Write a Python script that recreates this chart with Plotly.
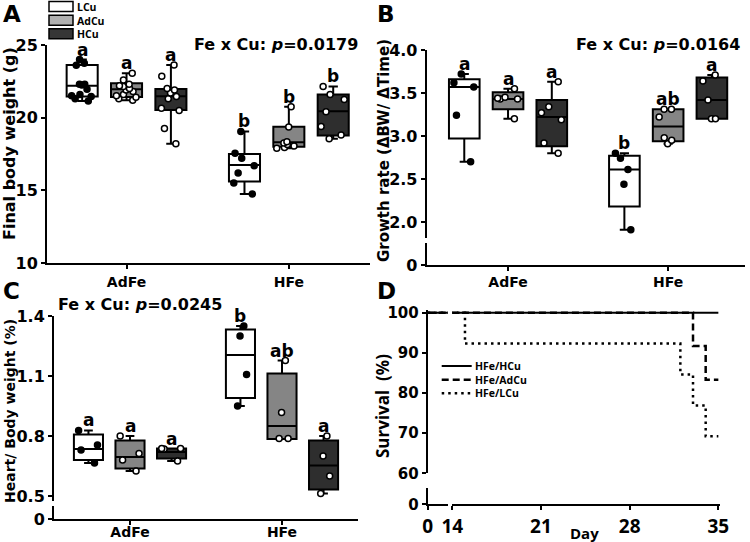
import plotly.graph_objects as go

W, H = 750, 542

fe_groups = ["AdFe", "HFe"]
cu_levels = ["LCu", "AdCu", "HCu"]

# ---------------- Panel A: final body weight (g) ----------------
# each list = [AdFe points, HFe points]
bw_LCu = [[24.0, 23.75, 23.6, 22.3, 22.3, 22.25, 21.95, 21.6, 21.5, 21.45, 21.3, 21.15],
          [19.05, 17.55, 17.2, 16.7, 16.2, 15.5, 14.75]]
bw_AdCu = [[23.05, 22.6, 22.3, 22.2, 22.15, 22.0, 21.9, 21.8, 21.6, 21.5, 21.4, 21.3, 21.2],
           [20.75, 19.35, 18.35, 18.25, 18.15, 18.05, 17.95, 17.9]]
bw_HCu = [[23.62, 22.85, 22.0, 21.9, 21.7, 21.45, 21.3, 20.65, 20.5, 19.25, 18.2],
          [22.15, 21.6, 21.25, 20.4, 19.4, 18.8, 18.55]]
# box statistics, rows LCu / AdCu / HCu, columns AdFe / HFe
bw_q1 = [[21.45, 15.6], [21.42, 18.0], [20.53, 18.78]]
bw_med = [[22.2, 16.75], [21.95, 18.3], [21.47, 20.45]]
bw_q3 = [[23.62, 17.5], [22.36, 19.38], [21.97, 21.6]]
bw_letters = [["a", "b"], ["a", "b"], ["a", "b"]]
bw_p = "0.0179"

# ---------------- Panel B: growth rate ----------------
gr_LCu = [[3.72, 3.62, 3.57, 3.24, 2.70], [2.80, 2.74, 2.61, 2.44, 1.91]]
gr_AdCu = [[3.55, 3.45, 3.44, 3.43, 3.43, 3.20], [3.31, 3.31, 3.22, 2.98, 2.95, 2.91]]
gr_HCu = [[3.63, 3.34, 3.27, 3.19, 2.92, 2.80], [3.71, 3.64, 3.42, 3.20, 3.20]]
gr_q1 = [[2.97, 2.18], [3.31, 2.94], [2.88, 3.20]]
gr_med = [[3.57, 2.61], [3.43, 3.11], [3.22, 3.42]]
gr_q3 = [[3.66, 2.77], [3.51, 3.31], [3.42, 3.68]]
gr_letters = [["a", "b"], ["a", "ab"], ["a", "a"]]
gr_p = "0.0164"

# ---------------- Panel C: heart / body weight (%) ----------------
hb_LCu = [[0.828, 0.755, 0.73, 0.665], [1.35, 1.30, 1.108, 0.95]]
hb_AdCu = [[0.80, 0.713, 0.68, 0.625], [1.177, 0.918, 0.788, 0.788]]
hb_HCu = [[0.737, 0.737, 0.735, 0.675], [0.80, 0.70, 0.60, 0.513]]
hb_q1 = [[0.68, 0.99], [0.638, 0.785], [0.688, 0.533]]
hb_med = [[0.735, 1.205], [0.695, 0.85], [0.72, 0.652]]
hb_q3 = [[0.808, 1.333], [0.777, 1.113], [0.738, 0.777]]
hb_letters = [["a", "b"], ["a", "ab"], ["a", "a"]]
hb_p = "0.0245"

# ---------------- Panel D: survival (%) ----------------
surv_names = ["HFe/HCu", "HFe/AdCu", "HFe/LCu"]
surv_day_HCu = [0, 35]
surv_HCu = [100, 100]
surv_day_AdCu = [0, 33, 34, 35]
surv_AdCu = [100, 91.7, 83.3, 83.3]
surv_day_LCu = [0, 15, 32, 33, 34, 35]
surv_LCu = [100, 92.3, 84.6, 76.9, 69.2, 69.2]

# ---------------- styles ----------------
FONT = "DejaVu Sans"
FONT2 = "Open Sans"
box_fill = {"LCu": "#ffffff", "AdCu": "#858585", "HCu": "#2e2e2e"}
legend_fill = {"LCu": "#ffffff", "AdCu": "#b0b0b0", "HCu": "#363636"}
BOXGAP, BOXGROUPGAP = 0.18, 0.3


def xd(a, b):
    return [a / W, b / W]


def yd(top, bottom):
    return [1 - bottom / H, 1 - top / H]


def px(x):
    return x / W


def py(y):
    return 1 - y / H


def axis(**kw):
    d = dict(showline=True, linecolor="black", linewidth=2, ticks="outside", ticklen=4,
             tickwidth=2, tickcolor="black", showgrid=False, zeroline=False, automargin=False,
             tickfont=dict(family=FONT, size=16, color="black", weight="bold"))
    d.update(kw)
    return d


fig = go.Figure()
annotations = []
shapes = []


def add_panel(pts_by_cu, q1, med, q3, letters, xa, ya, group):
    for k, cu in enumerate(cu_levels):
        pts = pts_by_cu[k]
        filled = cu == "LCu"
        fig.add_trace(go.Box(
            x=fe_groups, y=pts, q1=q1[k], median=med[k], q3=q3[k],
            lowerfence=[min(p) for p in pts], upperfence=[max(p) for p in pts],
            boxpoints="all", jitter=0.8, pointpos=0,
            fillcolor=box_fill[cu], line=dict(color="black", width=2),
            whiskerwidth=0.3,
            marker=dict(color="black" if filled else "white", size=6,
                        line=dict(color="black", width=1.5)),
            offsetgroup=cu, alignmentgroup=group, name=cu,
            xaxis=xa, yaxis=ya, showlegend=False, hoverinfo="skip"))
        off = (k - 1) * (1 - BOXGAP) / 3
        for i, g in enumerate(fe_groups):
            annotations.append(dict(
                x=i + off, y=max(pts[i]), xref=xa, yref=ya, text=letters[k][i],
                showarrow=False, yanchor="bottom", xanchor="center", yshift=-2,
                font=dict(family=FONT, size=17, color="black", weight="bold")))


add_panel([bw_LCu, bw_AdCu, bw_HCu], bw_q1, bw_med, bw_q3, bw_letters, "x", "y", "A")
add_panel([gr_LCu, gr_AdCu, gr_HCu], gr_q1, gr_med, gr_q3, gr_letters, "x2", "y2", "B")
add_panel([hb_LCu, hb_AdCu, hb_HCu], hb_q1, hb_med, hb_q3, hb_letters, "x3", "y4", "C")

# survival curves
surv_data = [(surv_day_HCu, surv_HCu), (surv_day_AdCu, surv_AdCu), (surv_day_LCu, surv_LCu)]
surv_dash = ["solid", "7px,4px", "2.5px,4px"]
surv_width = [2, 2.5, 2.5]
for (days, vals), nm, dash, lw in zip(surv_data, surv_names, surv_dash, surv_width):
    for xa in ("x4", "x5"):
        fig.add_trace(go.Scatter(
            x=days, y=vals, mode="lines", line=dict(color="black", width=lw, dash=dash, shape="hv"),
            name=nm, xaxis=xa, yaxis="y6", showlegend=False, hoverinfo="skip"))

# empty traces so that the short axis-break segments get their own subplots
for xa, ya in [("x2", "y3"), ("x3", "y5"), ("x5", "y7"), ("x4", "y7")]:
    fig.add_trace(go.Scatter(x=[], y=[], xaxis=xa, yaxis=ya, mode="markers",
                             showlegend=False, hoverinfo="skip"))

# p-value texts
for txt, x, y in [(bw_p, 276, 45), (gr_p, 658, 45), (hb_p, 140, 304)]:
    annotations.append(dict(x=px(x), y=py(y), xref="paper", yref="paper", showarrow=False,
                            text="Fe x Cu: <i>p</i>=" + txt, xanchor="center", yanchor="middle",
                            font=dict(family=FONT, size=16, color="black", weight="bold")))

# panel letters
for t, x, y in [("A", 2, 0), ("B", 376, 0), ("C", 2, 277), ("D", 376, 277)]:
    annotations.append(dict(x=px(x), y=py(y), xref="paper", yref="paper", showarrow=False,
                            text=t, xanchor="left", yanchor="top", borderpad=0,
                            font=dict(family=FONT, size=23, color="black", weight="bold")))

# y-axis titles
for t, x, y, fam, sz in [("Final body weight (g)", 10, 144, FONT, 16),
                         ("Growth rate (ΔBW/ ΔTime)", 384, 151, FONT, 15),
                         ("Heart/ Body weight (%)", 10, 411, FONT, 14),
                         ("Survival\u00a0 (%)", 382, 406, FONT2, 17)]:
    annotations.append(dict(x=px(x), y=py(y), xref="paper", yref="paper", showarrow=False,
                            text=t, textangle=-90, xanchor="center", yanchor="middle",
                            font=dict(family=fam, size=sz, color="black", weight="bold")))
annotations.append(dict(x=px(584), y=py(533), xref="paper", yref="paper", showarrow=False,
                        text="Day", xanchor="center", yanchor="middle",
                        font=dict(family=FONT2, size=15, color="black", weight="bold")))

# legend for box panels (one multi-line label block)
LEG_A_FONT = 10.5
leg_a_step = LEG_A_FONT * 1.3
leg_a_top = 6.5
for r, cu in enumerate(cu_levels):
    yc = leg_a_top + leg_a_step * r
    shapes.append(dict(type="rect", xref="paper", yref="paper", x0=px(49), x1=px(73),
                       y0=py(yc + 5), y1=py(yc - 5), fillcolor=legend_fill[cu],
                       line=dict(color="black", width=1.5)))
annotations.append(dict(x=px(76), y=py(leg_a_top + leg_a_step), xref="paper", yref="paper",
                        showarrow=False, text="<br>".join(cu_levels), align="left",
                        xanchor="left", yanchor="middle", borderpad=0,
                        font=dict(family=FONT2, size=LEG_A_FONT, color="black", weight="bold")))

# legend for survival panel
LEG_D_FONT = 10.5
leg_d_step = LEG_D_FONT * 1.3
leg_d_top = 366
for r, (nm, dash, lw) in enumerate(zip(surv_names, surv_dash, surv_width)):
    yc = leg_d_top + leg_d_step * r
    shapes.append(dict(type="line", xref="paper", yref="paper", x0=px(441.7), x1=px(471.7),
                       y0=py(yc), y1=py(yc), line=dict(color="black", width=lw, dash=dash)))
annotations.append(dict(x=px(473), y=py(leg_d_top + leg_d_step), xref="paper", yref="paper",
                        showarrow=False, text="<br>".join(surv_names), align="left",
                        xanchor="left", yanchor="middle",
                        font=dict(family=FONT2, size=LEG_D_FONT, color="black", weight="bold")))

xfont = dict(family=FONT, size=14, color="black", weight="bold")
dfont = dict(family=FONT2, size=19, color="black", weight="bold")
dyfont = dict(family=FONT, size=15, color="black", weight="bold")
fig.update_layout(
    template="none",
    width=W, height=H, margin=dict(l=0, r=0, t=0, b=0, pad=0),
    paper_bgcolor="white", plot_bgcolor="white", showlegend=False,
    boxmode="group", boxgap=BOXGAP, boxgroupgap=BOXGROUPGAP,
    annotations=annotations, shapes=shapes,
    # A
    xaxis=axis(domain=xd(47, 370), range=[-0.49, 1.5], type="category", anchor="y",
               tickfont=xfont, ticklabelstandoff=1),
    yaxis=axis(domain=yd(45, 263), range=[10, 25], tickvals=[10, 15, 20, 25], anchor="x"),
    # B
    xaxis2=axis(domain=xd(426.7, 745), range=[-0.508, 1.48], type="category", anchor="y3",
                tickfont=xfont, ticklabelstandoff=-1),
    yaxis2=axis(domain=yd(50, 238), range=[1.814, 4.0], tickvals=[2.0, 2.5, 3.0, 3.5, 4.0],
                tickformat=".1f", anchor="x2"),
    yaxis3=axis(domain=yd(243, 265), range=[0, 0.256], tickvals=[0], anchor="x2"),
    # C
    xaxis3=axis(domain=xd(54, 358), range=[-0.5, 1.5], type="category", anchor="y5",
                tickfont=xfont, ticklabelstandoff=-5),
    yaxis4=axis(domain=yd(316, 501), range=[0.475, 1.4], tickvals=[0.5, 0.8, 1.1, 1.4],
                tickformat=".1f", anchor="x3"),
    yaxis5=axis(domain=yd(506, 519.3), range=[0, 0.0665], tickvals=[0], anchor="x3"),
    # D
    xaxis4=axis(domain=xd(452.3, 720), range=[14, 35.13], tickvals=[14, 21, 28, 35], anchor="y7",
                tickfont=dfont),
    xaxis5=axis(domain=xd(427.7, 447.7), range=[0, 1.58], tickvals=[0], anchor="y7",
                tickfont=dfont),
    yaxis6=axis(domain=yd(310, 473.3), range=[60, 100.67], tickvals=[60, 70, 80, 90, 100],
                anchor="x5", tickfont=dyfont),
    yaxis7=axis(domain=yd(487.7, 504.3), range=[0, 4.13], tickvals=[0], anchor="x5",
                tickfont=dyfont),
)

fig.write_html("out.html", config={"displayModeBar": False},
               post_script="document.body.style.margin='0';document.body.style.overflow='hidden';")
